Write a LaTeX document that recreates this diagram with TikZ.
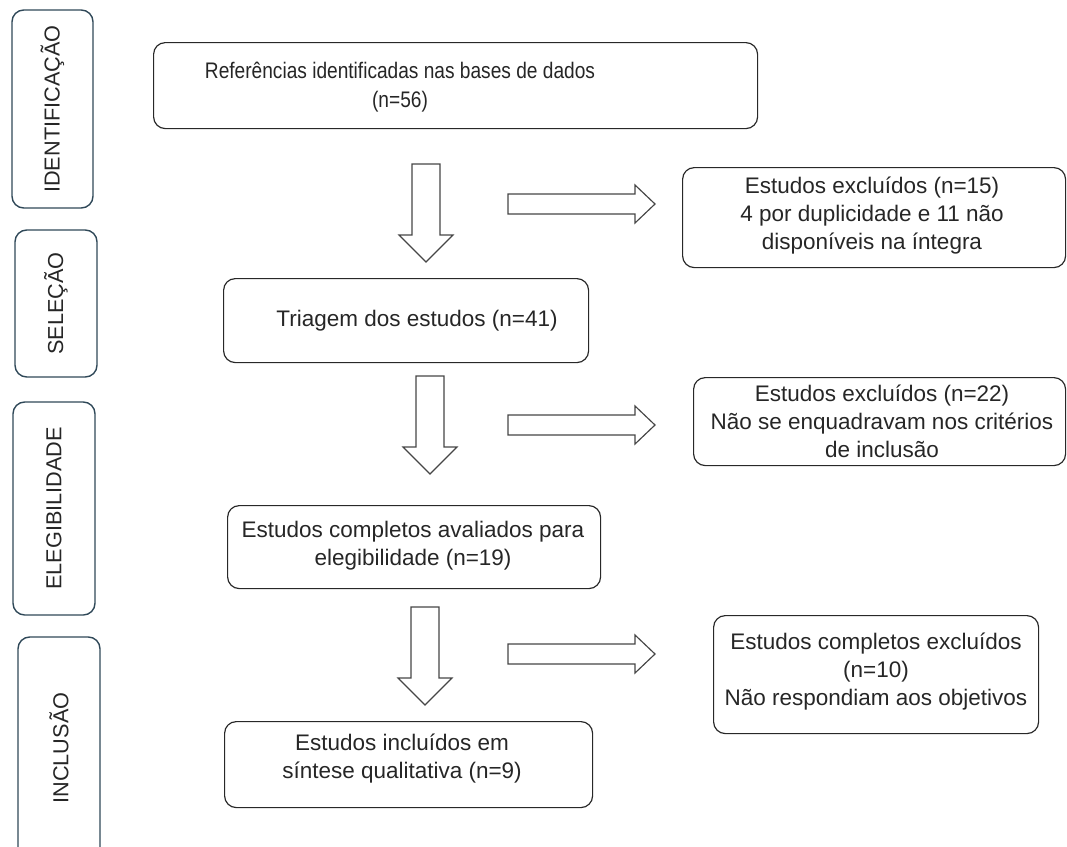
\documentclass[tikz,border=0pt]{standalone}
\usepackage{fontspec}
\setmainfont{Liberation Sans}
\newfontfamily\narrowsans{Liberation Sans}[FakeStretch=0.85]

\definecolor{sideline}{RGB}{47,72,88}
\definecolor{boxline}{RGB}{40,40,40}
\definecolor{arrowline}{RGB}{70,70,70}
\newcommand{\px}{0.3mm}

\tikzset{
	sidebox/.style={draw=sideline, line width=1.2pt, rounded corners=10pt, rotate=90, font=\fontsize{18.5}{22}\selectfont, text=black!85},
	box/.style={draw=boxline, line width=1pt, rounded corners=10pt, anchor=north west},
	txt/.style={align=center, font=\fontsize{19.2}{23.9}\selectfont, text=black!85},
	blockarrow/.style={draw=arrowline, line width=1pt, fill=white, line join=miter}
}

\begin{document}
\begin{tikzpicture}[x=\px, y=-\px]
		\useasboundingbox (0,0) rectangle (1067,846);
		\clip (0,0) rectangle (1067,846);
		% fases
		\node[sidebox, minimum width=198*\px, minimum height=81*\px] (ident) at (52.5,109) {IDENTIFICAÇÃO};
		\node[sidebox, minimum width=147*\px, minimum height=82*\px] (selecao) at (56,303.5) {SELEÇÃO};
		\node[sidebox, minimum width=213*\px, minimum height=82*\px] (eleg) at (54,508.5) {ELEGIBILIDADE};
		\node[sidebox, minimum width=222*\px, minimum height=82*\px] (inclusao) at (59,748) {INCLUSÃO};
		% caixas
		\node[box, minimum width=604*\px, minimum height=86*\px] (refs) at (153,42) {};
		\node[box, minimum width=383*\px, minimum height=100*\px] (excl1) at (682,167) {};
		\node[box, minimum width=365*\px, minimum height=84*\px] (triagem) at (223,278) {};
		\node[box, minimum width=372*\px, minimum height=88*\px] (excl2) at (693,377) {};
		\node[box, minimum width=373*\px, minimum height=83*\px] (completos) at (227,505) {};
		\node[box, minimum width=325*\px, minimum height=118*\px] (excl3) at (713,615) {};
		\node[box, minimum width=368*\px, minimum height=86*\px] (incluidos) at (224,721) {};
		% textos
		\node[txt, font=\narrowsans\fontsize{19.2}{24.5}\selectfont] (refstext) at (400,87) {Referências identificadas nas bases de dados\\(n=56)};
		\node[txt] (excl1text) at (872,216) {Estudos excluídos (n=15)\\4 por duplicidade e 11 não\\disponíveis na íntegra};
		\node[txt] (triagemtext) at (417,321) {Triagem dos estudos (n=41)};
		\node[txt] (excl2text) at (882,421) {Estudos excluídos (n=22)\\Não se enquadravam nos critérios\\de inclusão};
		\node[txt] (completostext) at (413,546) {Estudos completos avaliados para\\elegibilidade (n=19)};
		\node[txt] (excl3text) at (876,672) {Estudos completos excluídos\\(n=10)\\Não respondiam aos objetivos};
		\node[txt] (incluidostext) at (402,759) {Estudos incluídos em\\síntese qualitativa (n=9)};
		% setas
		\foreach \x/\y/\yy in {426/164/204, 430/376/425, 425/607/654}
		{
			\draw[blockarrow] (\x-14,\y) -- (\x+14,\y) -- (\x+14,\y+71) -- (\x+27,\y+71) -- (\x,\y+98) -- (\x-27,\y+71) -- (\x-14,\y+71) -- cycle;
			\draw[blockarrow] (508,\yy-10) -- (635,\yy-10) -- (635,\yy-19) -- (655,\yy) -- (635,\yy+19) -- (635,\yy+10) -- (508,\yy+10) -- cycle;
		}
		\end{tikzpicture}
\end{document}
